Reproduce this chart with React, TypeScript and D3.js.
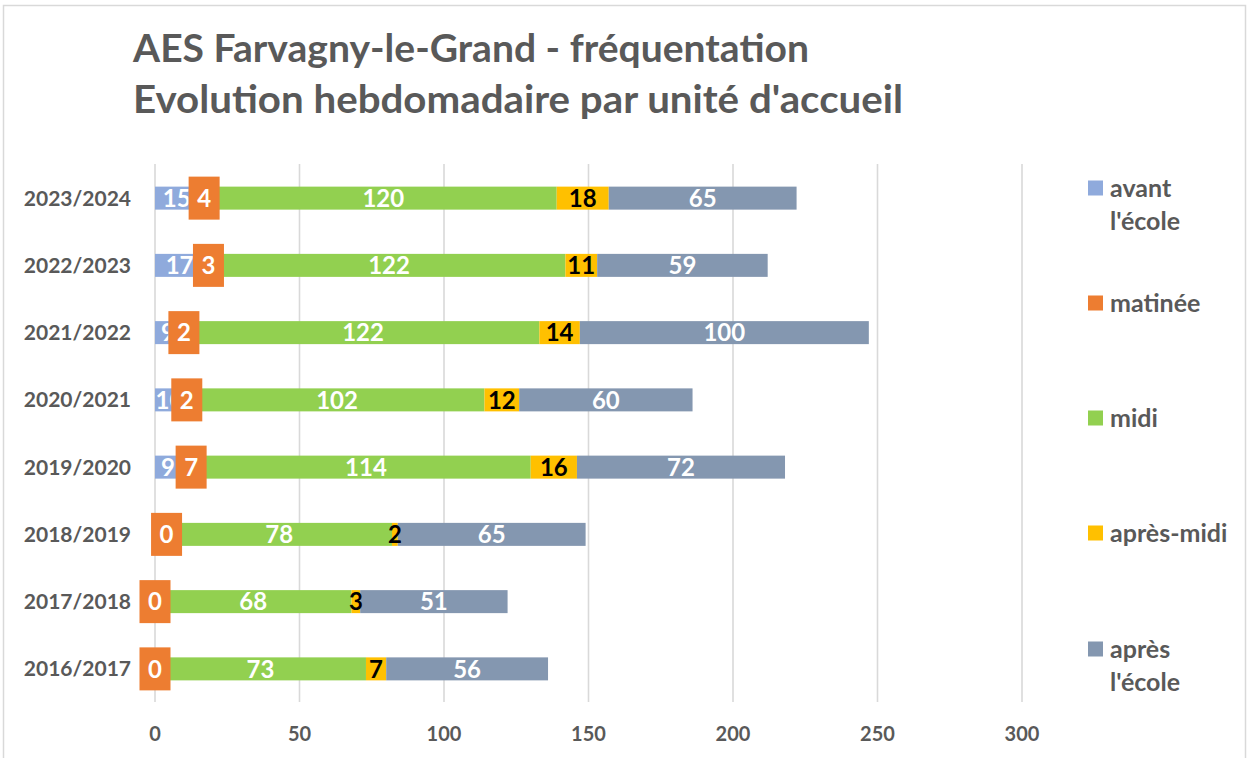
import React from "react";
import * as d3 from "d3";

// school years, oldest first
const years = ["2016/2017", "2017/2018", "2018/2019", "2019/2020", "2020/2021", "2021/2022", "2022/2023", "2023/2024"];
const avantEcole = [0, 0, 4, 9, 10, 9, 17, 15];
const matinee = [0, 0, 0, 7, 2, 2, 3, 4];
const midi = [73, 68, 78, 114, 102, 122, 122, 120];
const apresMidi = [7, 3, 2, 16, 12, 14, 11, 18];
const apresEcole = [56, 51, 65, 72, 60, 100, 59, 65];

const seriesNames = ["avant l'école", "matinée", "midi", "après-midi", "après l'école"];
const xTicks = [0, 50, 100, 150, 200, 250, 300];

const COLORS = ["#8FAADC", "#ED7D31", "#92D050", "#FFC000", "#8497B0"];
const LABEL_COLORS = ["#fff", "#fff", "#fff", "#000", "#fff"];
const FONT = "Lato, 'Open Sans', sans-serif";
const GREY = "#595959";

const W = 1248;
const H = 758;
const BOX_W = 31;
const BOX_H = 43;

export default function App() {
  const rows = years.map((y, i) => ({
    year: y,
    s0: avantEcole[i], s1: matinee[i], s2: midi[i], s3: apresMidi[i], s4: apresEcole[i],
  }));
  const keys = ["s0", "s1", "s2", "s3", "s4"];
  const stacked = d3.stack<any>().keys(keys)(rows);

  const x = d3.scaleLinear().domain([0, 300]).range([155, 1022]);
  const y = d3.scaleBand().domain([...years].reverse()).range([164.5, 702.5]).paddingInner(0.658).paddingOuter(0.329);
  const bh = y.bandwidth();

  const legendY = [188, 303, 418, 533, 649];
  const legendLines = [["avant", "l'école"], ["matinée"], ["midi"], ["après-midi"], ["après", "l'école"]];

  // left edge of the orange matinée label box on each row
  const boxLeft = stacked[1].map((d) => (x(d[0]) + x(d[1])) / 2 - BOX_W / 2);

  return (
    <div style={{ position: "absolute", left: 0, top: 0 }}>
      <svg width={W} height={H} style={{ display: "block", background: "#fff" }}>
        <defs>
          {years.map((yr, i) => (
            <clipPath key={yr} id={"clip" + i}>
              <rect x={0} y={y(yr)} width={Math.max(0, boxLeft[i])} height={bh} />
            </clipPath>
          ))}
        </defs>
        <rect x={3.5} y={5.5} width={1242} height={H} fill="#fff" stroke="#d9d9d9" strokeWidth={1.5} />

        <g fontFamily={FONT} fontWeight={700} fill={GREY} fontSize={39}>
          <text x={133} y={62} textLength={676} lengthAdjust="spacingAndGlyphs">AES Farvagny-le-Grand - fréquentation</text>
          <text x={133} y={113} textLength={770} lengthAdjust="spacingAndGlyphs">Evolution hebdomadaire par unité d'accueil</text>
        </g>

        {/* grid */}
        {xTicks.map((t) => (
          <line key={t} x1={x(t)} x2={x(t)} y1={164} y2={702} stroke="#d9d9d9" strokeWidth={1.6} />
        ))}
        <g fontFamily={FONT} fontWeight={700} fill={GREY} fontSize={20} textAnchor="middle">
          {xTicks.map((t) => (
            <text key={t} x={x(t)} y={741}>{t}</text>
          ))}
        </g>

        {/* category labels */}
        <g fontFamily={FONT} fontWeight={700} fill={GREY} fontSize={21} textAnchor="end">
          {years.map((yr) => (
            <text key={yr} x={131} y={(y(yr) as number) + bh / 2} dy="0.36em">{yr}</text>
          ))}
        </g>

        {/* bars */}
        {stacked.map((s, si) => (
          <g key={si} fill={COLORS[si]}>
            {s.map((d, i) => (
              <rect key={i} x={x(d[0])} y={y(years[i])} width={x(d[1]) - x(d[0])} height={bh} />
            ))}
          </g>
        ))}

        {/* value labels */}
        <g fontFamily={FONT} fontWeight={700} fontSize={24} textAnchor="middle">
          {/* avant l'école labels, partly hidden by the matinée box */}
          {stacked[0].map((d, i) => {
            const v = d[1] - d[0];
            const cx = (x(d[0]) + x(d[1])) / 2;
            if (v <= 0 || cx - 6 > boxLeft[i]) return null;
            return (
              <text key={"a" + i} x={cx} y={(y(years[i]) as number) + bh / 2} dy="0.36em" fill={LABEL_COLORS[0]} clipPath={`url(#clip${i})`}>
                {v}
              </text>
            );
          })}
          {[2, 3, 4].map((si) =>
            stacked[si].map((d, i) =>
              d[1] - d[0] > 0 ? (
                <text key={si + "-" + i} x={(x(d[0]) + x(d[1])) / 2} y={(y(years[i]) as number) + bh / 2} dy="0.36em" fill={LABEL_COLORS[si]}>
                  {d[1] - d[0]}
                </text>
              ) : null
            )
          )}
          {stacked[1].map((d, i) => {
            const cx = (x(d[0]) + x(d[1])) / 2;
            const cy = (y(years[i]) as number) + bh / 2;
            return (
              <g key={"m" + i}>
                <rect x={cx - BOX_W / 2} y={cy - BOX_H / 2} width={BOX_W} height={BOX_H} fill={COLORS[1]} />
                <text x={cx} y={cy} dy="0.36em" fill="#fff">{d[1] - d[0]}</text>
              </g>
            );
          })}
        </g>

        {/* legend */}
        <g fontFamily={FONT} fontWeight={700} fill={GREY} fontSize={25}>
          {seriesNames.map((n, i) => (
            <g key={n}>
              <rect x={1088} y={legendY[i] - 7.5} width={15} height={15} fill={COLORS[i]} />
              {legendLines[i].map((ln, j) => (
                <text key={j} x={1110} y={legendY[i] + j * 33} dy="0.36em">{ln}</text>
              ))}
            </g>
          ))}
        </g>
      </svg>
    </div>
  );
}
